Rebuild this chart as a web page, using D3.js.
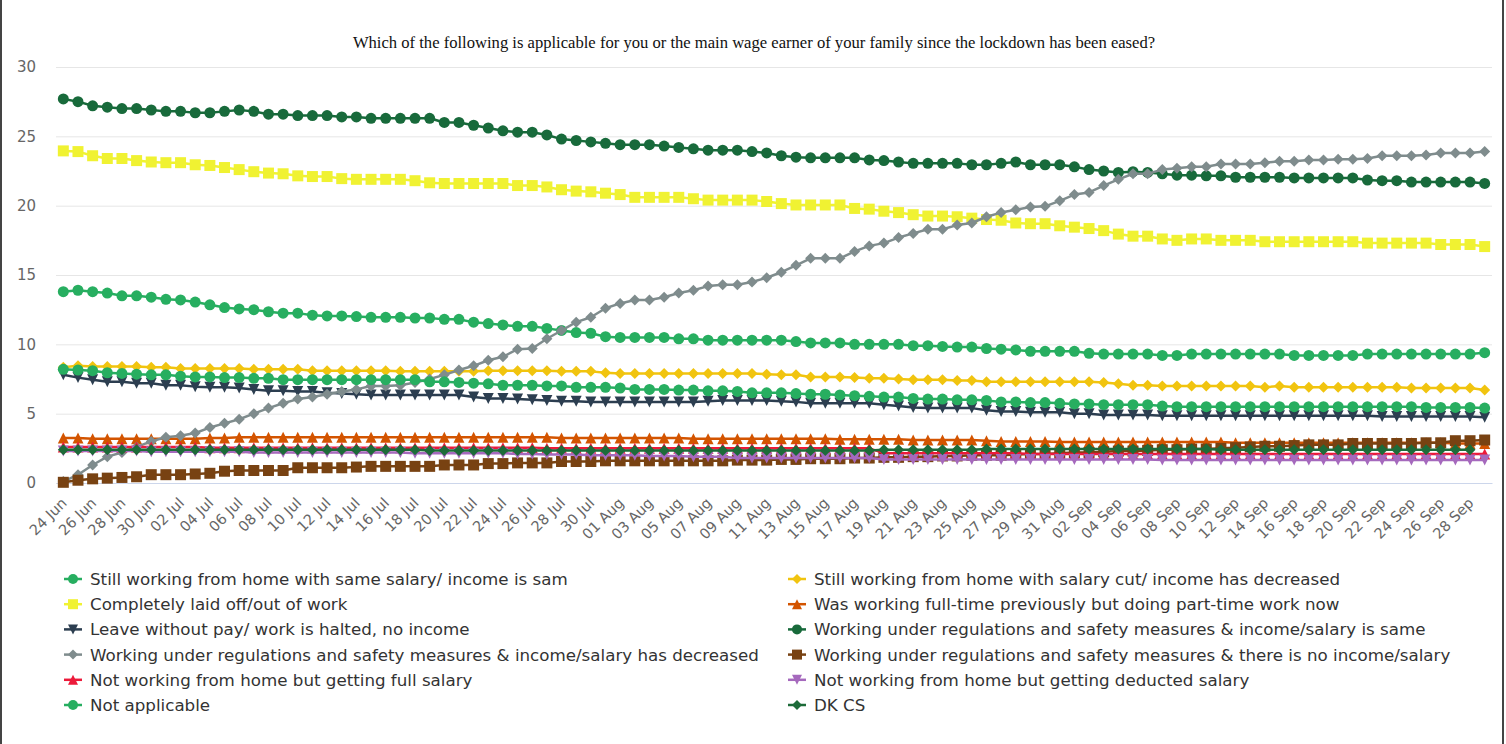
<!DOCTYPE html>
<html>
<head>
<meta charset="utf-8">
<script src="https://cdn.jsdelivr.net/npm/d3@7"></script>
<style>
  body { margin: 0; background: #fff; }
  svg { display: block; }
</style>
</head>
<body>
<svg id="chart" width="1506" height="744"></svg>
<script>
// categories: one point per day, 24 Jun .. 29 Sep
var dates = d3.timeDay.range(new Date(2020, 5, 24), new Date(2020, 8, 30)).map(d3.timeFormat("%d %b"));

var yTicks = [0, 5, 10, 15, 20, 25, 30];

var homeSame = [13.8, 13.9, 13.8, 13.7, 13.5, 13.5, 13.4, 13.25, 13.2, 13.05, 12.85, 12.65, 12.55, 12.5, 12.35, 12.25, 12.25, 12.1, 12.05, 12.05, 12.0, 11.95, 11.95, 11.95, 11.9, 11.9, 11.8, 11.8, 11.6, 11.5, 11.4, 11.3, 11.3,
  11.15, 11.0, 10.85, 10.8, 10.55, 10.5, 10.5, 10.5, 10.5, 10.4, 10.4, 10.3, 10.3, 10.3, 10.3, 10.3, 10.3, 10.2, 10.1, 10.1, 10.1, 10.0, 10.0, 10.0, 10.0, 9.9, 9.9, 9.85, 9.8, 9.8, 9.7, 9.65,
  9.6, 9.5, 9.5, 9.5, 9.5, 9.35, 9.3, 9.3, 9.3, 9.3, 9.2, 9.2, 9.3, 9.3, 9.3, 9.3, 9.3, 9.3, 9.3, 9.2, 9.2, 9.2, 9.2, 9.2, 9.3, 9.3, 9.3, 9.3, 9.3, 9.3, 9.3, 9.3, 9.4];

var homeCut = [8.35, 8.45, 8.4, 8.4, 8.4, 8.4, 8.35, 8.35, 8.25, 8.25, 8.25, 8.25, 8.25, 8.2, 8.2, 8.2, 8.2, 8.1, 8.1, 8.1, 8.1, 8.1, 8.1, 8.05, 8.05, 8.05, 8.05, 8.05, 8.05, 8.1, 8.1, 8.1, 8.1,
  8.1, 8.05, 8.05, 8.05, 7.95, 7.9, 7.9, 7.9, 7.9, 7.9, 7.9, 7.9, 7.9, 7.9, 7.9, 7.85, 7.8, 7.8, 7.65, 7.65, 7.65, 7.6, 7.55, 7.55, 7.5, 7.45, 7.45, 7.45, 7.4, 7.4, 7.3, 7.3,
  7.3, 7.3, 7.3, 7.3, 7.3, 7.3, 7.25, 7.15, 7.05, 7.05, 7.0, 7.0, 7.0, 7.0, 7.0, 7.0, 7.0, 6.9, 7.0, 6.9, 6.9, 6.9, 6.9, 6.9, 6.9, 6.9, 6.9, 6.85, 6.85, 6.85, 6.85, 6.85, 6.7];

var laidOff = [23.95, 23.9, 23.6, 23.4, 23.4, 23.25, 23.15, 23.1, 23.1, 22.95, 22.9, 22.75, 22.6, 22.45, 22.35, 22.3, 22.15, 22.1, 22.1, 21.95, 21.9, 21.9, 21.9, 21.9, 21.8, 21.65, 21.6, 21.6, 21.6, 21.6, 21.6, 21.45, 21.45,
  21.35, 21.15, 21.05, 21.0, 20.9, 20.8, 20.6, 20.6, 20.6, 20.6, 20.5, 20.4, 20.4, 20.4, 20.4, 20.3, 20.15, 20.05, 20.05, 20.05, 20.05, 19.8, 19.75, 19.6, 19.5, 19.35, 19.25, 19.25, 19.2, 19.1, 19.0, 18.95,
  18.75, 18.7, 18.7, 18.55, 18.45, 18.35, 18.2, 17.95, 17.8, 17.8, 17.6, 17.5, 17.6, 17.6, 17.5, 17.5, 17.5, 17.4, 17.4, 17.4, 17.4, 17.4, 17.4, 17.4, 17.3, 17.3, 17.3, 17.3, 17.3, 17.2, 17.2, 17.2, 17.05];

var partTime = [3.25, 3.25, 3.2, 3.2, 3.2, 3.2, 3.2, 3.2, 3.2, 3.2, 3.25, 3.25, 3.3, 3.3, 3.3, 3.3, 3.3, 3.3, 3.3, 3.3, 3.3, 3.3, 3.3, 3.3, 3.3, 3.3, 3.3, 3.3, 3.3, 3.3, 3.3, 3.3, 3.3,
  3.3, 3.25, 3.25, 3.25, 3.25, 3.25, 3.25, 3.25, 3.25, 3.25, 3.2, 3.2, 3.2, 3.2, 3.2, 3.2, 3.2, 3.2, 3.2, 3.2, 3.15, 3.15, 3.15, 3.15, 3.15, 3.1, 3.1, 3.1, 3.1, 3.1, 3.05, 3.0,
  3.0, 3.0, 3.0, 2.95, 2.95, 2.95, 2.95, 2.95, 2.95, 2.95, 2.95, 2.95, 2.95, 2.95, 2.95, 2.9, 2.9, 2.9, 2.9, 2.9, 2.9, 2.9, 2.9, 2.9, 2.9, 2.9, 2.9, 2.9, 2.9, 2.9, 2.85, 2.85, 2.85];

var leaveNoPay = [7.8, 7.6, 7.45, 7.3, 7.3, 7.2, 7.2, 7.05, 7.05, 6.95, 6.9, 6.9, 6.85, 6.75, 6.65, 6.65, 6.6, 6.6, 6.5, 6.45, 6.4, 6.35, 6.35, 6.35, 6.35, 6.35, 6.35, 6.35, 6.2, 6.1, 6.1, 6.05, 6.0,
  5.95, 5.9, 5.9, 5.85, 5.85, 5.85, 5.85, 5.85, 5.85, 5.85, 5.85, 5.9, 5.95, 5.95, 5.95, 5.95, 5.9, 5.85, 5.75, 5.75, 5.75, 5.75, 5.75, 5.65, 5.55, 5.45, 5.4, 5.4, 5.4, 5.4, 5.25, 5.15,
  5.15, 5.1, 5.1, 5.1, 5.0, 5.0, 4.9, 4.9, 4.9, 4.9, 4.85, 4.85, 4.85, 4.85, 4.85, 4.85, 4.85, 4.85, 4.85, 4.85, 4.85, 4.85, 4.85, 4.85, 4.85, 4.8, 4.8, 4.8, 4.8, 4.8, 4.8, 4.8, 4.75];

var regSame = [27.7, 27.5, 27.2, 27.1, 27.0, 27.0, 26.9, 26.8, 26.8, 26.7, 26.7, 26.8, 26.9, 26.8, 26.6, 26.6, 26.5, 26.5, 26.5, 26.4, 26.4, 26.3, 26.3, 26.3, 26.3, 26.3, 26.0, 26.0, 25.8, 25.6, 25.4, 25.3, 25.3,
  25.1, 24.8, 24.7, 24.6, 24.5, 24.4, 24.4, 24.4, 24.3, 24.2, 24.1, 24.0, 24.0, 24.0, 23.9, 23.8, 23.6, 23.5, 23.45, 23.45, 23.45, 23.45, 23.3, 23.25, 23.15, 23.05, 23.05, 23.05, 23.05, 22.95, 22.95, 23.05,
  23.15, 22.95, 22.95, 22.95, 22.8, 22.6, 22.5, 22.4, 22.45, 22.4, 22.3, 22.2, 22.2, 22.15, 22.15, 22.05, 22.05, 22.05, 22.05, 22.0, 22.0, 22.0, 22.0, 22.0, 21.85, 21.8, 21.8, 21.7, 21.7, 21.7, 21.7, 21.7, 21.6];

var regDecreased = [0.1, 0.6, 1.3, 1.9, 2.2, 2.6, 3.0, 3.3, 3.4, 3.6, 4.0, 4.3, 4.6, 5.0, 5.4, 5.75, 6.05, 6.2, 6.4, 6.6, 6.75, 7.0, 7.0, 7.05, 7.25, 7.5, 7.8, 8.15, 8.45, 8.85, 9.1, 9.65, 9.7,
  10.4, 11.0, 11.6, 11.95, 12.6, 12.95, 13.2, 13.2, 13.4, 13.7, 13.9, 14.2, 14.3, 14.3, 14.5, 14.8, 15.2, 15.7, 16.2, 16.2, 16.2, 16.7, 17.1, 17.3, 17.7, 18.0, 18.3, 18.3, 18.6, 18.75, 19.2, 19.5,
  19.7, 19.9, 19.95, 20.35, 20.8, 20.95, 21.45, 21.9, 22.3, 22.3, 22.6, 22.7, 22.8, 22.8, 23.0, 23.0, 23.0, 23.1, 23.2, 23.2, 23.3, 23.3, 23.35, 23.35, 23.4, 23.6, 23.6, 23.6, 23.65, 23.8, 23.8, 23.8, 23.9];

var regNoIncome = [0.05, 0.2, 0.3, 0.35, 0.4, 0.45, 0.6, 0.6, 0.6, 0.65, 0.7, 0.85, 0.9, 0.9, 0.9, 0.9, 1.1, 1.1, 1.1, 1.1, 1.15, 1.2, 1.2, 1.2, 1.2, 1.2, 1.3, 1.3, 1.3, 1.4, 1.4, 1.45, 1.45,
  1.45, 1.55, 1.55, 1.55, 1.6, 1.6, 1.6, 1.6, 1.6, 1.6, 1.6, 1.6, 1.6, 1.65, 1.65, 1.65, 1.7, 1.7, 1.75, 1.75, 1.75, 1.8, 1.8, 1.85, 1.85, 1.9, 1.9, 1.95, 1.95, 2.0, 2.0, 2.0,
  2.05, 2.1, 2.1, 2.15, 2.2, 2.2, 2.25, 2.3, 2.3, 2.35, 2.4, 2.4, 2.45, 2.45, 2.5, 2.55, 2.6, 2.65, 2.65, 2.7, 2.75, 2.75, 2.75, 2.85, 2.85, 2.85, 2.85, 2.85, 2.9, 2.9, 3.05, 3.05, 3.1];

var fullSalary = [2.6, 2.6, 2.6, 2.6, 2.6, 2.6, 2.6, 2.6, 2.6, 2.6, 2.55, 2.55, 2.55, 2.55, 2.55, 2.55, 2.55, 2.55, 2.55, 2.55, 2.55, 2.55, 2.55, 2.55, 2.55, 2.55, 2.55, 2.55, 2.55, 2.55, 2.55, 2.55, 2.55,
  2.5, 2.5, 2.5, 2.5, 2.5, 2.5, 2.5, 2.5, 2.5, 2.5, 2.5, 2.5, 2.5, 2.5, 2.5, 2.5, 2.5, 2.5, 2.5, 2.5, 2.5, 2.5, 2.5, 2.15, 2.15, 2.15, 2.15, 2.15, 2.15, 2.15, 2.15, 2.15,
  2.15, 2.1, 2.1, 2.1, 2.1, 2.1, 2.1, 2.1, 2.1, 2.1, 2.1, 2.1, 2.1, 2.1, 2.1, 2.1, 2.1, 2.1, 2.1, 2.1, 2.1, 2.1, 2.1, 2.1, 2.1, 2.1, 2.1, 2.1, 2.1, 2.1, 2.1, 2.1, 2.1];

var deductedSalary = [2.3, 2.3, 2.3, 2.3, 2.3, 2.3, 2.25, 2.25, 2.25, 2.25, 2.25, 2.25, 2.25, 2.2, 2.2, 2.2, 2.2, 2.2, 2.2, 2.2, 2.2, 2.2, 2.2, 2.2, 2.15, 2.15, 2.15, 2.15, 2.15, 2.15, 2.15, 2.1, 2.1,
  2.05, 2.05, 2.05, 2.0, 2.0, 2.0, 2.0, 1.95, 1.95, 1.95, 1.9, 1.9, 1.9, 1.8, 1.8, 1.8, 1.8, 1.8, 1.8, 1.8, 1.8, 1.8, 1.8, 1.7, 1.7, 1.7, 1.7, 1.7, 1.7, 1.7, 1.7, 1.7,
  1.7, 1.7, 1.7, 1.7, 1.7, 1.7, 1.7, 1.7, 1.7, 1.7, 1.65, 1.65, 1.65, 1.65, 1.65, 1.65, 1.65, 1.65, 1.65, 1.65, 1.65, 1.65, 1.65, 1.65, 1.65, 1.65, 1.65, 1.65, 1.65, 1.65, 1.65, 1.65, 1.65];

var notApplicable = [8.2, 8.15, 8.1, 7.95, 7.9, 7.85, 7.8, 7.8, 7.7, 7.65, 7.65, 7.6, 7.6, 7.55, 7.55, 7.45, 7.45, 7.45, 7.45, 7.45, 7.45, 7.45, 7.45, 7.45, 7.45, 7.3, 7.3, 7.25, 7.2, 7.15, 7.05, 7.05, 7.05,
  7.0, 7.0, 6.9, 6.9, 6.9, 6.85, 6.75, 6.75, 6.75, 6.7, 6.7, 6.65, 6.65, 6.6, 6.5, 6.5, 6.5, 6.45, 6.4, 6.4, 6.35, 6.3, 6.25, 6.2, 6.2, 6.1, 6.05, 6.05, 6.0, 6.0, 5.95, 5.85,
  5.85, 5.8, 5.8, 5.75, 5.7, 5.7, 5.65, 5.65, 5.65, 5.65, 5.55, 5.5, 5.5, 5.5, 5.5, 5.5, 5.5, 5.5, 5.5, 5.5, 5.5, 5.5, 5.5, 5.5, 5.5, 5.5, 5.5, 5.5, 5.45, 5.45, 5.45, 5.45, 5.4];

var dkcs = [2.4, 2.4, 2.4, 2.4, 2.4, 2.4, 2.4, 2.4, 2.4, 2.4, 2.4, 2.4, 2.4, 2.4, 2.4, 2.4, 2.4, 2.4, 2.4, 2.4, 2.4, 2.4, 2.4, 2.4, 2.4, 2.35, 2.35, 2.35, 2.35, 2.35, 2.35, 2.35, 2.35,
  2.35, 2.35, 2.35, 2.35, 2.35, 2.35, 2.35, 2.35, 2.35, 2.35, 2.35, 2.35, 2.35, 2.35, 2.35, 2.35, 2.35, 2.35, 2.35, 2.35, 2.35, 2.35, 2.35, 2.4, 2.4, 2.4, 2.4, 2.4, 2.4, 2.4, 2.45,
  2.45, 2.45, 2.45, 2.45, 2.45, 2.45, 2.45, 2.45, 2.45, 2.45, 2.45, 2.45, 2.45, 2.45, 2.45, 2.4, 2.4, 2.4, 2.4, 2.4, 2.4, 2.4, 2.4, 2.4, 2.4, 2.4, 2.4, 2.4, 2.4, 2.4, 2.4, 2.4, 2.4];

var seriesNames = [
  "Still working from home with same salary/ income is sam",
  "Still working from home with salary cut/ income has decreased",
  "Completely laid off/out of work",
  "Was working full-time previously but doing part-time work now",
  "Leave without pay/ work is halted, no income",
  "Working under regulations and safety measures & income/salary is same",
  "Working under regulations and safety measures & income/salary has decreased",
  "Working under regulations and safety measures & there is no income/salary",
  "Not working from home but getting full salary",
  "Not working from home but getting deducted salary",
  "Not applicable",
  "DK CS"
];
var seriesValues = [homeSame, homeCut, laidOff, partTime, leaveNoPay, regSame, regDecreased, regNoIncome, fullSalary, deductedSalary, notApplicable, dkcs];
var colors = ["#27ae60", "#f1c40f", "#f0f232", "#d35400", "#2c3e50", "#186a3b", "#7f8c8d", "#784212", "#ec1a3a", "#a569bd", "#27ae60", "#1d6b39"];
var symbols = ["circle", "diamond", "square", "triangle", "triangle-down"];

var svg = d3.select("#chart");
var plotLeft = 56, plotRight = 1492, plotTop = 67, plotBottom = 483;

var x = d3.scalePoint().domain(dates).range([plotLeft, plotRight]).padding(0.5);
var y = d3.scaleLinear().domain([0, 30]).range([plotBottom, plotTop]);

// frame
svg.append("line").attr("x1", 1).attr("x2", 1).attr("y1", 0).attr("y2", 744).attr("stroke", "#444").attr("stroke-width", 2);
svg.append("line").attr("x1", 1503).attr("x2", 1503).attr("y1", 0).attr("y2", 744).attr("stroke", "#444").attr("stroke-width", 2);

svg.append("text")
  .attr("x", 754).attr("y", 48)
  .attr("text-anchor", "middle")
  .style("font-family", "'Liberation Serif', 'Times New Roman', serif")
  .style("font-size", "16.6px")
  .style("fill", "#111")
  .text("Which of the following is applicable for you or the main wage earner of your family since the lockdown has been eased?");

// grid + y labels
var yAxis = svg.append("g").attr("transform", "translate(" + plotLeft + ",0)")
  .call(d3.axisLeft(y).tickValues(yTicks).tickSize(-(plotRight - plotLeft)).tickPadding(20));
yAxis.select(".domain").remove();
yAxis.selectAll(".tick line").attr("stroke", "#e6e6e6");
yAxis.selectAll(".tick text")
  .style("font-family", "'DejaVu Sans', sans-serif").style("font-size", "15px").style("fill", "#666");

// x axis
var xAxis = svg.append("g").attr("transform", "translate(0," + plotBottom + ")")
  .call(d3.axisBottom(x).tickValues(dates.filter(function(d, i){ return i % 2 == 0; })).tickSize(0));
xAxis.select(".domain").attr("stroke", "#ccd6eb");
xAxis.selectAll(".tick text")
  .attr("text-anchor", "end")
  .attr("dy", null).attr("y", 0)
  .attr("transform", "translate(4,21) rotate(-45)")
  .style("font-family", "'DejaVu Sans', sans-serif").style("font-size", "14.5px").style("fill", "#666");

function symbolPath(type, r){
  if (type == "square") return "M" + (-r) + "," + (-r) + "h" + 2*r + "v" + 2*r + "h" + (-2*r) + "Z";
  if (type == "diamond") return "M0," + (-r) + "L" + r + ",0L0," + r + "L" + (-r) + ",0Z";
  if (type == "triangle") return "M0," + (-r) + "L" + r + "," + r + "L" + (-r) + "," + r + "Z";
  if (type == "triangle-down") return "M" + (-r) + "," + (-r) + "L" + r + "," + (-r) + "L0," + r + "Z";
  return "M" + (-r) + ",0a" + r + "," + r + " 0 1,0 " + 2*r + ",0a" + r + "," + r + " 0 1,0 " + (-2*r) + ",0Z";
}

var line = d3.line().x(function(d, i){ return x(dates[i]); }).y(function(d){ return y(d); });

seriesValues.forEach(function(vals, s){
  var g = svg.append("g");
  g.append("path").attr("d", line(vals))
    .attr("fill", "none").attr("stroke", colors[s]).attr("stroke-width", 2.5)
    .attr("stroke-linejoin", "round");
  g.selectAll("path.m").data(vals).enter().append("path")
    .attr("class", "m")
    .attr("transform", function(d, i){ return "translate(" + x(dates[i]) + "," + y(d) + ")"; })
    .attr("d", symbolPath(symbols[s % 5], 5.5))
    .attr("fill", colors[s]);
});

// legend
var legend = svg.append("g");
seriesNames.forEach(function(name, s){
  var col = s % 2, row = Math.floor(s / 2);
  var lx = col == 0 ? 73 : 797, ly = 579 + row * 25.2;
  var item = legend.append("g").attr("transform", "translate(" + lx + "," + ly + ")");
  item.append("line").attr("x1", -9).attr("x2", 9).attr("stroke", colors[s]).attr("stroke-width", 2.5);
  item.append("path").attr("d", symbolPath(symbols[s % 5], 5)).attr("fill", colors[s]);
  item.append("text").attr("x", 17).attr("y", 6)
    .style("font-family", "'DejaVu Sans', sans-serif").style("font-size", "16.7px").style("fill", "#333")
    .text(name);
});
</script>
</body>
</html>
